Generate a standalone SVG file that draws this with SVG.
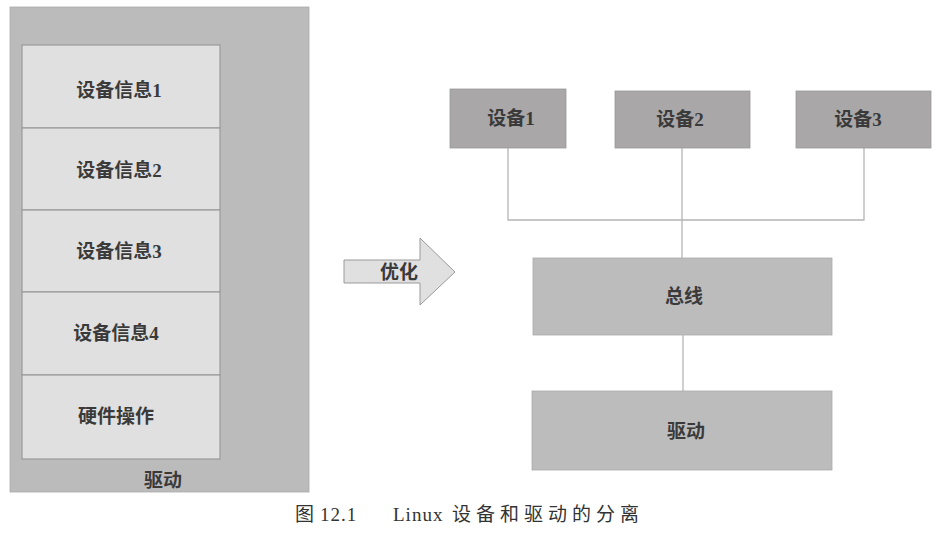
<svg xmlns="http://www.w3.org/2000/svg" width="946" height="535" viewBox="0 0 946 535">
<style>
text{font-family:"Liberation Serif","Noto Sans CJK SC",serif;font-size:19px;fill:#3a3a3a;font-weight:bold;text-anchor:middle}
.info{fill:#e0e0e0;stroke:#9a9a9a;stroke-width:1.2}
.dev{fill:#a9a7a8;stroke:#999;stroke-width:0.8}
.blk{fill:#bdbcbd;stroke:#aaa;stroke-width:0.8}
.conn{fill:none;stroke:#b5b5b5;stroke-width:1.3}
.cap{font-weight:normal;font-size:19px;fill:#333;text-anchor:start}
</style>
<rect width="946" height="535" fill="#fff"/>
<g id="driver-left">
<rect x="10" y="7" width="299" height="485" fill="#bcbbbc" stroke="#aaa" stroke-width="0.8"/>
<text x="163" y="487">驱动</text>
</g>
<g id="info1"><rect class="info" x="22" y="45" width="198" height="83"/><text x="119" y="97">设备信息1</text></g>
<g id="info2"><rect class="info" x="22" y="128" width="198" height="82"/><text x="119" y="177">设备信息2</text></g>
<g id="info3"><rect class="info" x="22" y="210" width="198" height="82"/><text x="119" y="258">设备信息3</text></g>
<g id="info4"><rect class="info" x="22" y="292" width="198" height="83"/><text x="116" y="340">设备信息4</text></g>
<g id="hw"><rect class="info" x="22" y="375" width="198" height="84"/><text x="116" y="423">硬件操作</text></g>
<g id="arrow">
<path d="M344,260 H420 V238 L455,272 L420,305 V283 H344 Z" fill="#e0e0e0" stroke="#9a9a9a" stroke-width="1"/>
<text x="399" y="279">优化</text>
</g>
<g id="connectors">
<path class="conn" d="M508,148 V220 H864 V148"/>
<path class="conn" d="M682,148 V258"/>
<path class="conn" d="M683,335 V391"/>
</g>
<g id="dev1"><rect class="dev" x="450" y="89" width="116" height="59"/><text x="511" y="125">设备1</text></g>
<g id="dev2"><rect class="dev" x="615" y="91" width="135" height="57"/><text x="680" y="126">设备2</text></g>
<g id="dev3"><rect class="dev" x="796" y="91" width="135" height="57"/><text x="858" y="126">设备3</text></g>
<g id="bus"><rect class="blk" x="533" y="258" width="299" height="77"/><text x="684" y="303">总线</text></g>
<g id="driver"><rect class="blk" x="532" y="391" width="300" height="79"/><text x="686" y="438">驱动</text></g>
<text class="cap" x="295" y="521">图<tspan x="320" letter-spacing="1">12.1</tspan><tspan x="393" letter-spacing="1">Linux</tspan><tspan x="452" letter-spacing="5">设备和驱动的分离</tspan></text>
</svg>
